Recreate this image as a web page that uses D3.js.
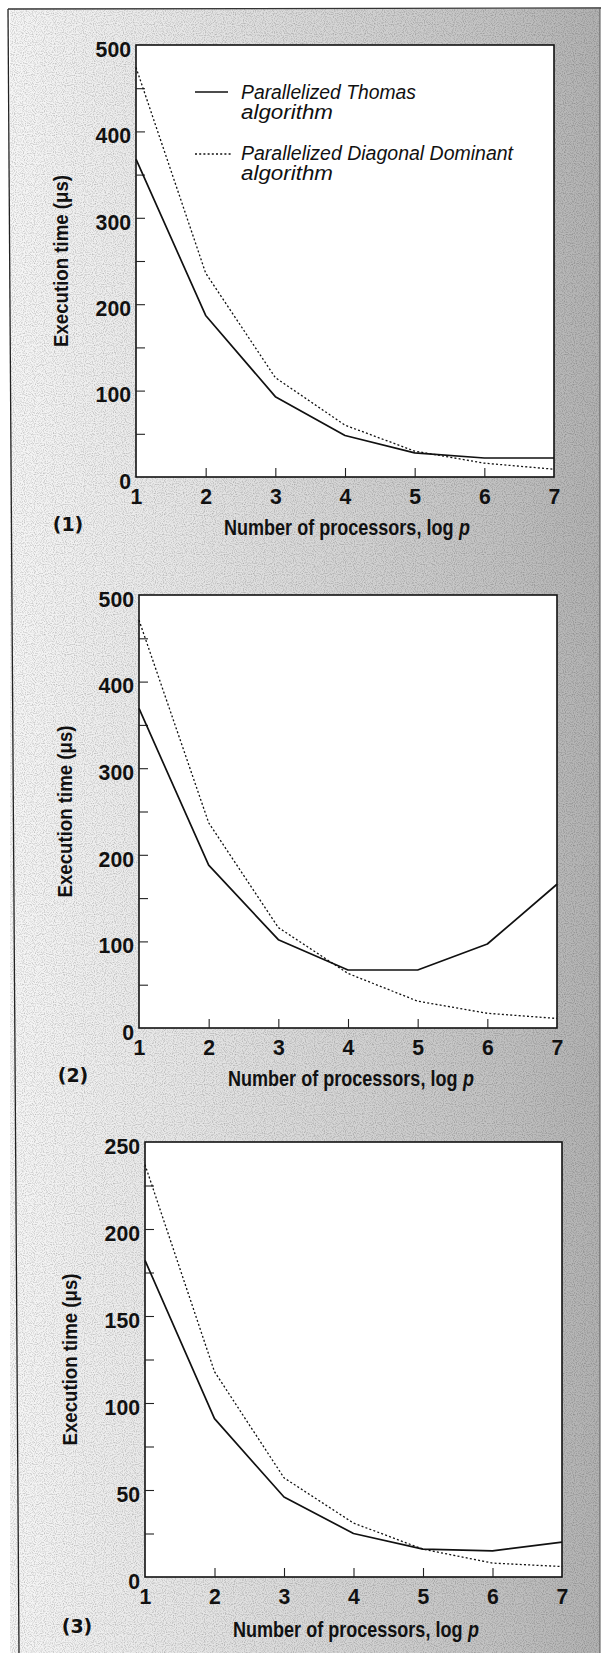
<!DOCTYPE html>
<html><head><meta charset="utf-8">
<script src="https://cdn.jsdelivr.net/npm/d3@7"></script>
<style>body{margin:0;background:#fff}svg{display:block}</style>
</head><body><svg id="c" width="605" height="1653"></svg>
<script>
// ---------- data ----------
const xValues = [1, 2, 3, 4, 5, 6, 7];
const xTickLabels = ["1", "2", "3", "4", "5", "6", "7"];
const thomas1 = [368, 187, 93, 48, 28, 22, 22];
const diagonal1 = [474, 236, 115, 60, 30, 16, 9];
const thomas2 = [369, 188, 102, 67, 67, 97, 166];
const diagonal2 = [471, 237, 116, 63, 31, 17, 11];
const thomas3 = [182, 91, 46, 25, 16, 15, 20];
const diagonal3 = [237, 118, 57, 31, 16, 8, 6];
const yTicks500 = [0, 100, 200, 300, 400, 500];
const yTicks250 = [0, 50, 100, 150, 200, 250];
const panelLabels = ["(1)", "(2)", "(3)"];
const legendLine1 = ["Parallelized Thomas", "algorithm"];
const legendLine2 = ["Parallelized Diagonal Dominant", "algorithm"];
const yTitle = "Execution time (\u03bcs)";
const xTitleMain = "Number of processors, log";
const xTitleVar = "p";

// ---------- layout ----------
const svg = d3.select("#c");
const defs = svg.append("defs");
const grad = defs.append("linearGradient").attr("id", "bg").attr("x1", "0").attr("x2", "1").attr("y1", "0").attr("y2", "0");
[["0%", "#f6f6f6"], ["30%", "#e6e6e6"], ["60%", "#d2d2d2"], ["85%", "#c0c0c0"], ["100%", "#b2b2b2"]]
  .forEach(([o, c]) => grad.append("stop").attr("offset", o).attr("stop-color", c));
const f = defs.append("filter").attr("id", "noise").attr("x", 0).attr("y", 0).attr("width", 1).attr("height", 1);
f.append("feTurbulence").attr("type", "fractalNoise").attr("baseFrequency", 0.9).attr("numOctaves", 1).attr("seed", 3);
f.append("feColorMatrix").attr("type", "matrix").attr("values", "0 0 0 0 0  0 0 0 0 0  0 0 0 0 0  0 0 0 -1.6 0.9");

svg.append("rect").attr("x", 10).attr("y", 9).attr("width", 590).attr("height", 1644).attr("fill", "url(#bg)");
svg.append("rect").attr("x", 10).attr("y", 9).attr("width", 590).attr("height", 1644).attr("filter", "url(#noise)").attr("opacity", 0.35);
svg.append("line").attr("x1", 8).attr("y1", 9).attr("x2", 19).attr("y2", 1653).attr("stroke", "#222").attr("stroke-width", 1.3);
svg.append("line").attr("x1", 8).attr("y1", 9).attr("x2", 601).attr("y2", 8).attr("stroke", "#333").attr("stroke-width", 1.3);
svg.append("line").attr("x1", 600).attr("y1", 8).attr("x2", 600).attr("y2", 1653).attr("stroke", "#555").attr("stroke-width", 1);

const panels = [
  {left: 136, right: 554, top: 45, bottom: 477, yMax: 500, ticks: yTicks500, minor: 50, thomas: thomas1, diag: diagonal1, yTitleX: 68, xTitleX: 348, xTitleY: 535, labelX: 68, legend: true},
  {left: 139, right: 557, top: 595, bottom: 1028, yMax: 500, ticks: yTicks500, minor: 50, thomas: thomas2, diag: diagonal2, yTitleX: 72, xTitleX: 352, xTitleY: 1086, labelX: 73, legend: false},
  {left: 145, right: 562, top: 1142, bottom: 1577, yMax: 250, ticks: yTicks250, minor: 25, thomas: thomas3, diag: diagonal3, yTitleX: 77, xTitleX: 357, xTitleY: 1637, labelX: 77, legend: false}
];

const FONT = "'Liberation Sans Narrow','Liberation Sans',Arial,sans-serif";
const DIGIT_W = 11.8;

panels.forEach((p, i) => {
  const x = d3.scaleLinear().domain([1, 7]).range([p.left, p.right]);
  const y = d3.scaleLinear().domain([0, p.yMax]).range([p.bottom, p.top]);
  const g = svg.append("g");
  g.append("rect").attr("x", p.left).attr("y", p.top).attr("width", p.right - p.left).attr("height", p.bottom - p.top)
    .attr("fill", "#fff").attr("stroke", "#111").attr("stroke-width", 1.6);

  // minor ticks
  const minorVals = d3.range(p.minor, p.yMax, p.minor * 2);
  g.append("g").attr("transform", `translate(${p.left},0)`)
    .call(d3.axisLeft(y).tickValues(minorVals).tickSize(-9).tickFormat(""))
    .call(a => a.select(".domain").remove())
    .call(a => a.selectAll("line").attr("stroke", "#222").attr("stroke-width", 1.1));

  // y axis
  const ya = g.append("g").attr("transform", `translate(${p.left},0)`)
    .call(d3.axisLeft(y).tickValues(p.ticks).tickSize(-9).tickPadding(5))
    .call(a => a.select(".domain").remove())
    .call(a => a.selectAll("line").attr("stroke", "#222").attr("stroke-width", 1.1))
    .call(a => a.selectAll("text").attr("font-family", FONT).attr("font-weight", "bold").attr("font-size", 22.5)
      .attr("fill", "#111").attr("dy", "0.5em")
      .attr("textLength", d => String(d).length * DIGIT_W).attr("lengthAdjust", "spacingAndGlyphs"));
  ya.selectAll(".tick").filter(d => d === 0 || d === p.yMax).select("line").remove();

  // x axis
  g.append("g").attr("transform", `translate(0,${p.bottom})`)
    .call(d3.axisBottom(x).tickValues(xValues).tickSize(-9).tickPadding(11).tickFormat((d, k) => xTickLabels[k]))
    .call(a => a.select(".domain").remove())
    .call(a => a.selectAll("line").attr("stroke", "#222").attr("stroke-width", 1.1))
    .call(a => a.selectAll(".tick").filter(d => d === 1 || d === 7).select("line").remove())
    .call(a => a.selectAll("text").attr("font-family", FONT).attr("font-weight", "bold").attr("font-size", 22.5)
      .attr("fill", "#111").attr("textLength", DIGIT_W).attr("lengthAdjust", "spacingAndGlyphs"));

  // lines
  const line = d3.line().x((d, k) => x(xValues[k])).y(d => y(d));
  g.append("path").datum(p.diag).attr("d", line).attr("fill", "none").attr("stroke", "#111")
    .attr("stroke-width", 1.3).attr("stroke-dasharray", "2,2.2");
  g.append("path").datum(p.thomas).attr("d", line).attr("fill", "none").attr("stroke", "#111")
    .attr("stroke-width", 1.7).attr("stroke-linejoin", "round");

  // y title
  g.append("text").attr("transform", `translate(${p.yTitleX},${(p.top + p.bottom) / 2}) rotate(-90)`)
    .attr("text-anchor", "middle").attr("font-family", FONT).attr("font-weight", "bold").attr("font-size", 20)
    .attr("fill", "#111").attr("textLength", 172).attr("lengthAdjust", "spacingAndGlyphs").text(yTitle);

  // x title (main part + italic variable), horizontally condensed by a transform
  const x0 = p.xTitleX - 124;
  g.append("text").attr("transform", `translate(${x0},${p.xTitleY}) scale(0.82,1)`)
    .attr("font-family", FONT).attr("font-weight", "bold").attr("font-size", 22).attr("fill", "#111")
    .text(xTitleMain);
  g.append("text").attr("transform", `translate(${x0 + 235},${p.xTitleY}) scale(0.82,1)`)
    .attr("font-family", FONT).attr("font-weight", "bold").attr("font-style", "italic").attr("font-size", 22).attr("fill", "#111")
    .text(xTitleVar);

  // panel label
  g.append("text").attr("x", p.labelX).attr("y", p.xTitleY - 4).attr("text-anchor", "middle")
    .attr("font-family", "'DejaVu Sans','Liberation Sans',sans-serif").attr("font-weight", "bold").attr("font-size", 19)
    .attr("fill", "#111").text(panelLabels[i]);

  if (p.legend) {
    const lg = g.append("g");
    const LX = 241;
    lg.append("line").attr("x1", 195).attr("x2", 228).attr("y1", 92).attr("y2", 92).attr("stroke", "#111").attr("stroke-width", 1.6);
    lg.append("line").attr("x1", 195).attr("x2", 232).attr("y1", 154).attr("y2", 154).attr("stroke", "#111").attr("stroke-width", 1.3).attr("stroke-dasharray", "2,2.2");
    const tstyle = t => t.attr("font-family", FONT).attr("font-style", "italic").attr("font-size", 20).attr("fill", "#111").attr("lengthAdjust", "spacingAndGlyphs");
    lg.append("text").attr("x", LX).attr("y", 99).call(tstyle).attr("textLength", 175).text(legendLine1[0]);
    lg.append("text").attr("x", LX).attr("y", 119).call(tstyle).attr("textLength", 92).text(legendLine1[1]);
    lg.append("text").attr("x", LX).attr("y", 160).call(tstyle).attr("textLength", 272).text(legendLine2[0]);
    lg.append("text").attr("x", LX).attr("y", 180).call(tstyle).attr("textLength", 92).text(legendLine2[1]);
  }
});
</script></body></html>
